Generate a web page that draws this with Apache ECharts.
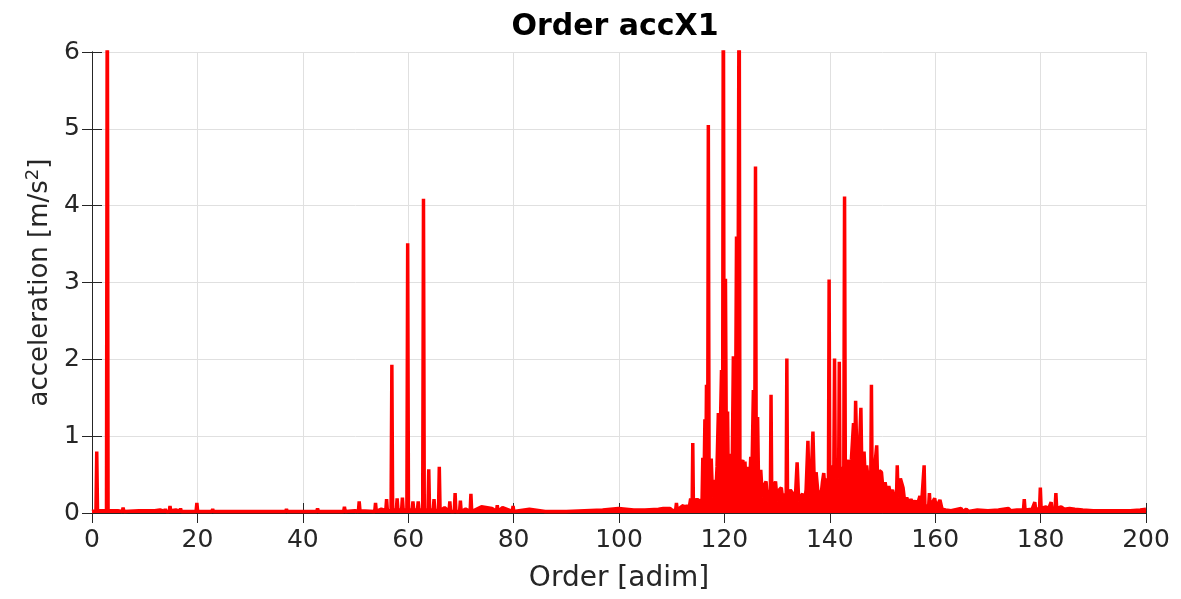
<!DOCTYPE html>
<html>
<head>
<meta charset="utf-8">
<title>Order accX1</title>
<script src="https://cdn.jsdelivr.net/npm/echarts@6/dist/echarts.min.js"></script>
<style>
  html, body { margin: 0; padding: 0; background: #fff; }
  #chartDom { width: 1181px; height: 599px; }
</style>
</head>
<body>
<div id="chartDom"></div>
<script>
// order spectrum, [order, acceleration m/s^2]
const lowBand = [
  [0, 0.02], [0.75, 0.03], [0.9, 0.8], [1.05, 0.03], [2.75, 0.03], [2.9, 7.5], [3.05, 0.03],
  [4.9, 0.03], [5.75, 0.02], [5.9, 0.07], [6.05, 0.02], [8.9, 0.03], [11.9, 0.03],
  [12.9, 0.04], [13.75, 0.02], [13.9, 0.05], [14.05, 0.02], [14.65, 0.02], [14.8, 0.09],
  [14.95, 0.03], [15.9, 0.04], [16.65, 0.02], [16.8, 0.06], [16.95, 0.02], [19.75, 0.02],
  [19.9, 0.13], [20.05, 0.02], [22.75, 0.02], [22.9, 0.05], [23.05, 0.02], [30, 0.02],
  [36.75, 0.02], [36.9, 0.05], [37.05, 0.02], [42.65, 0.02], [42.8, 0.06], [42.95, 0.02],
  [44.65, 0.02], [44.8, 0.04], [44.95, 0.02], [47.75, 0.02], [47.9, 0.08], [48.05, 0.02],
  [49.9, 0.03], [50.55, 0.02]
];

const firstCluster = [
  [50.7, 0.15], [50.85, 0.03], [53.65, 0.02], [53.8, 0.13], [53.95, 0.02], [54.9, 0.05],
  [55.75, 0.03], [55.9, 0.18], [56.05, 0.03], [56.75, 0.03], [56.9, 1.93], [57.05, 0.04],
  [57.75, 0.04], [57.9, 0.19], [58.05, 0.04], [58.75, 0.04], [58.9, 0.2], [59.05, 0.04],
  [59.75, 0.04], [59.9, 3.51], [60.05, 0.04], [60.75, 0.04], [60.9, 0.15], [61.05, 0.04],
  [61.75, 0.04], [61.9, 0.15], [62.05, 0.04], [62.75, 0.04], [62.9, 4.09], [63.05, 0.04],
  [63.75, 0.04], [63.9, 0.57], [64.05, 0.04], [64.75, 0.04], [64.9, 0.18], [65.05, 0.04],
  [65.75, 0.03], [65.9, 0.6], [66.05, 0.03], [66.9, 0.07], [67.75, 0.02], [67.9, 0.15],
  [68.05, 0.02], [68.75, 0.02], [68.9, 0.26], [69.05, 0.02], [69.75, 0.02], [69.9, 0.16],
  [70.05, 0.02], [70.9, 0.05], [71.75, 0.02], [71.9, 0.25], [72.05, 0.02], [73.9, 0.08],
  [75.9, 0.06], [76.75, 0.02], [76.9, 0.1], [77.05, 0.02], [77.9, 0.07], [79.75, 0.02],
  [79.9, 0.09], [80.05, 0.02], [83, 0.05], [86, 0.02], [90, 0.02], [96.9, 0.04],
  [99.9, 0.06], [102.8, 0.04], [104.9, 0.04], [107.5, 0.05], [108.4, 0.06], [109.7, 0.06],
  [110.1, 0.03]
];

const mainCluster = [
  [110.75, 0.04], [110.9, 0.13], [111.05, 0.04], [112.2, 0.1], [112.5, 0.05], [112.9, 0.1],
  [113.3, 0.06], [113.6, 0.19], [113.88, 0.08], [114.0, 0.91], [114.12, 0.1], [114.5, 0.12],
  [114.8, 0.19], [115.1, 0.1], [115.4, 0.18], [115.75, 0.12], [115.9, 0.72], [116.1, 0.2],
  [116.3, 1.22], [116.45, 0.3], [116.6, 1.67], [116.82, 0.35], [116.95, 5.05], [117.1, 0.3],
  [117.5, 0.71], [117.75, 0.2], [118.0, 0.43], [118.3, 0.15], [118.6, 0.6], [118.85, 1.3],
  [119.05, 0.4], [119.3, 1.33], [119.45, 1.86], [119.65, 0.4], [119.8, 7.5], [119.95, 0.5],
  [120.2, 3.05], [120.4, 0.4], [120.6, 1.32], [120.75, 0.3], [120.9, 0.69], [121.05, 0.3],
  [121.2, 0.77], [121.45, 0.35], [121.7, 2.04], [121.9, 0.4], [122.1, 1.0], [122.3, 3.6],
  [122.5, 0.4], [122.8, 7.5], [122.95, 0.4], [123.2, 0.65], [123.5, 0.69], [123.7, 0.3],
  [123.9, 0.67], [124.2, 0.25], [124.5, 0.6], [124.75, 0.3], [125.0, 0.73], [125.2, 0.4],
  [125.5, 1.6], [125.75, 0.5], [125.9, 4.51], [126.05, 0.35], [126.3, 1.25], [126.5, 0.3],
  [126.9, 0.56], [127.2, 0.2], [127.5, 0.35], [127.9, 0.41], [128.2, 0.15], [128.5, 0.3],
  [128.72, 0.25], [128.85, 1.54], [128.98, 0.25], [129.4, 0.35], [129.7, 0.41], [130.0, 0.15],
  [130.4, 0.3], [130.8, 0.33], [131.1, 0.15], [131.5, 0.25], [131.72, 0.2], [131.85, 2.01],
  [131.98, 0.2], [132.5, 0.3], [132.9, 0.26], [133.2, 0.12], [133.5, 0.25], [133.8, 0.66],
  [134.1, 0.15], [134.5, 0.22], [134.85, 0.25], [135.2, 0.15], [135.5, 0.3], [135.85, 0.94],
  [136.1, 0.2], [136.4, 0.35], [136.8, 1.06], [137.1, 0.25], [137.4, 0.53], [137.7, 0.3],
  [137.95, 0.32], [138.3, 0.2], [138.6, 0.4], [138.85, 0.52], [139.1, 0.3], [139.4, 0.45],
  [139.74, 0.35], [139.87, 3.04], [140.0, 0.35], [140.4, 0.62], [140.75, 0.4], [140.9, 2.01],
  [141.05, 0.45], [141.4, 0.55], [141.67, 0.45], [141.8, 1.97], [141.93, 0.45], [142.2, 0.6],
  [142.65, 0.5], [142.8, 4.12], [142.95, 0.4], [143.3, 0.6], [143.6, 0.69], [143.85, 0.45],
  [144.1, 0.7], [144.5, 1.17], [144.7, 0.5], [144.9, 1.46], [145.2, 0.5], [145.5, 0.6],
  [145.9, 1.37], [146.1, 0.45], [146.5, 0.8], [146.75, 0.4], [147.0, 0.62], [147.3, 0.4],
  [147.6, 0.55], [147.77, 0.4], [147.9, 1.67], [148.03, 0.4], [148.4, 0.5], [148.9, 0.88],
  [149.1, 0.35], [149.4, 0.55], [149.8, 0.53], [150.1, 0.3], [150.5, 0.4], [150.8, 0.25],
  [151.2, 0.35], [151.5, 0.25], [151.9, 0.3], [152.2, 0.2], [152.65, 0.2], [152.8, 0.62],
  [152.95, 0.2], [153.4, 0.45], [153.9, 0.33], [154.2, 0.15], [154.6, 0.2], [155.0, 0.12],
  [155.4, 0.18], [155.8, 0.12], [156.2, 0.16], [156.6, 0.1], [157.1, 0.22], [157.4, 0.1],
  [157.75, 0.1], [157.9, 0.62], [158.05, 0.1], [158.75, 0.08], [158.9, 0.26], [159.05, 0.08],
  [159.9, 0.19], [160.2, 0.07], [160.9, 0.17], [161.3, 0.05], [162, 0.04]
];

const tail = [
  [163, 0.03], [164.9, 0.06], [165.2, 0.02], [165.9, 0.05], [166.3, 0.02], [168, 0.04],
  [170, 0.03], [172, 0.04], [173.9, 0.06], [174.3, 0.03], [175.5, 0.04], [176.75, 0.04],
  [176.9, 0.18], [177.05, 0.04], [178.4, 0.05], [178.75, 0.05], [178.9, 0.14], [179.05, 0.05],
  [179.8, 0.06], [179.95, 0.33], [180.1, 0.06], [181.0, 0.08], [181.5, 0.05], [181.85, 0.05],
  [182.0, 0.14], [182.15, 0.05], [182.75, 0.06], [182.9, 0.26], [183.05, 0.06], [183.9, 0.08],
  [184.5, 0.05], [185.5, 0.06], [186.5, 0.05], [188, 0.04], [190, 0.03], [192, 0.03],
  [195, 0.03], [197, 0.03], [198.9, 0.04], [200, 0.05]
];

const spectrum = lowBand.concat(firstCluster, mainCluster, tail);

const textColor = "#262626";
const gridColor = "#e0e0e0";
const font = "DejaVu Sans";

const chart = echarts.init(document.getElementById("chartDom"));

// box axes (top / right) only carry the inward ticks, like the matlab figure
function boxAxis(extra) {
  return Object.assign({
    type: "value",
    axisLine: { show: true, lineStyle: { color: textColor, width: 1 } },
    axisTick: { show: true, inside: true, length: 10, lineStyle: { color: textColor } },
    axisLabel: { show: false },
    splitLine: { show: false },
  }, extra);
}

const option = {
  animation: false,
  backgroundColor: "#fff",
  title: {
    text: "Order accX1",
    left: 615,
    top: 12,
    padding: 0,
    textAlign: "center",
    textStyle: { fontFamily: font, fontWeight: "bold", fontSize: 30, color: "#000" },
  },
  grid: { left: 92, right: 35, top: 52, bottom: 86 },
  xAxis: [
    {
      type: "value",
      min: 0,
      max: 200,
      interval: 20,
      name: "Order [adim]",
      nameLocation: "middle",
      nameGap: 52,
      nameTextStyle: { fontFamily: font, fontSize: 28, color: textColor },
      axisLine: { show: true, onZero: false, lineStyle: { color: textColor, width: 1 } },
      axisTick: { show: true, inside: true, length: 10, lineStyle: { color: textColor } },
      axisLabel: { margin: 15, fontFamily: font, fontSize: 25, color: textColor },
      splitLine: { show: true, lineStyle: { color: gridColor, width: 1 } },
    },
    boxAxis({ position: "top", min: 0, max: 200, interval: 20 }),
  ],
  yAxis: [
    {
      type: "value",
      min: 0,
      max: 6,
      interval: 1,
      name: "{a|acceleration [m/s}{s|2}{a|]}",
      nameLocation: "middle",
      nameGap: 34,
      nameTextStyle: {
        color: textColor,
        rich: {
          a: { fontFamily: font, fontSize: 26, color: textColor },
          s: { fontFamily: font, fontSize: 18, color: textColor, padding: [0, 0, 14, 0] },
        },
      },
      axisLine: { show: true, onZero: false, lineStyle: { color: textColor, width: 1 } },
      axisTick: { show: true, inside: true, length: 10, lineStyle: { color: textColor } },
      axisLabel: { margin: 12, fontFamily: font, fontSize: 25, color: textColor },
      splitLine: { show: true, lineStyle: { color: gridColor, width: 1 } },
    },
    boxAxis({ position: "right", min: 0, max: 6, interval: 1 }),
  ],
  series: [
    {
      type: "line",
      data: spectrum,
      symbol: "none",
      clip: true,
      lineStyle: { color: "#ff0000", width: 3.5 },
      // the dense region reads as a solid band, so fill below the trace
      areaStyle: { color: "#ff0000", opacity: 1 },
      z: 3,
    },
  ],
};

chart.setOption(option);
</script>
</body>
</html>
